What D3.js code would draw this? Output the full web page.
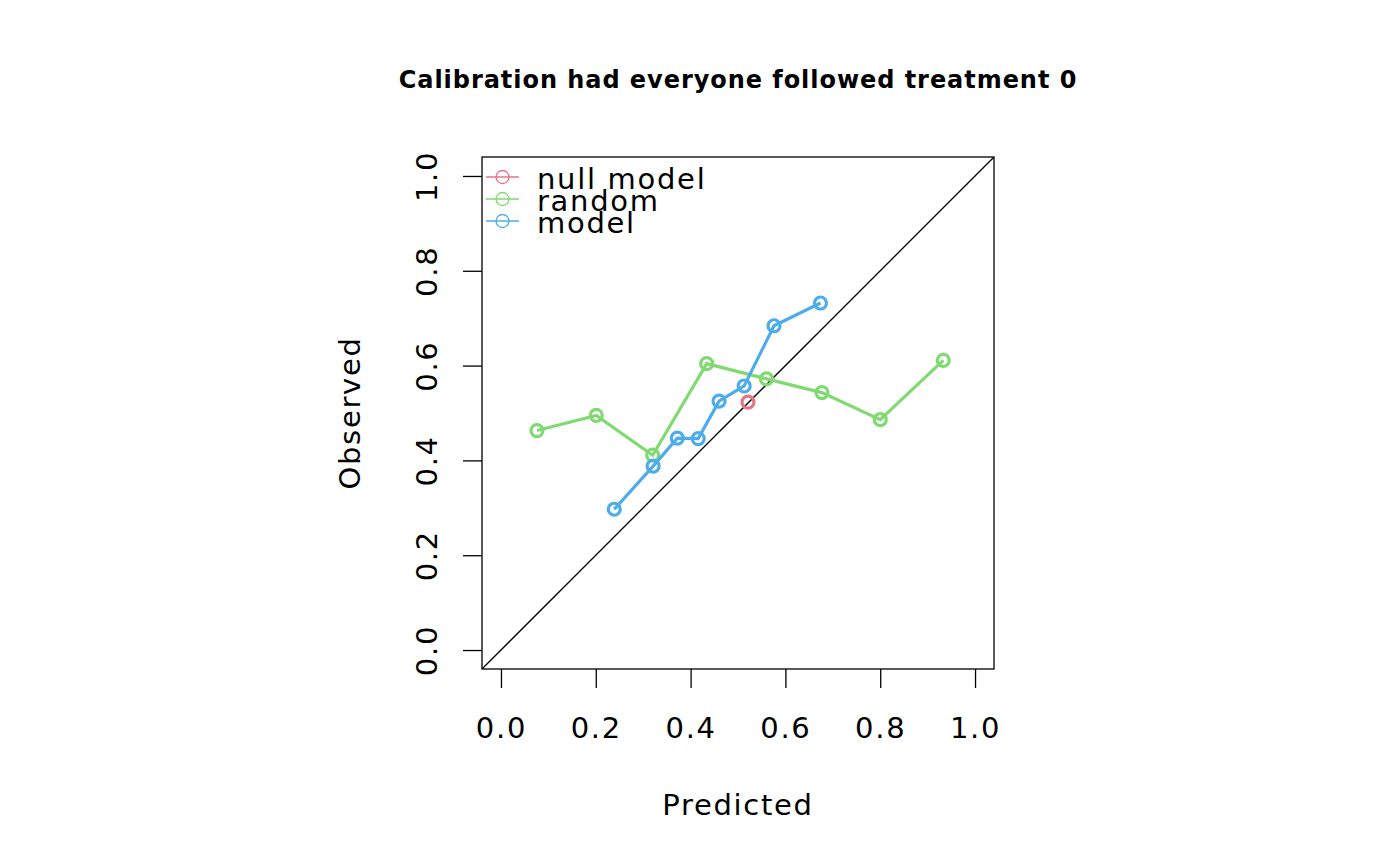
<!DOCTYPE html>
<html>
<head>
<meta charset="utf-8">
<script src="https://cdn.jsdelivr.net/npm/d3@7"></script>
<style>
    body { margin: 0; background: #fff; }
    text { font-family: "DejaVu Sans", sans-serif; }
</style>
</head>
<body>
<div id="chart"></div>
<script>
// Values
const seriesNames = ["null model", "random", "model"];
const seriesColors = ["#E57589", "#81D972", "#4EACEB"];

const nullPredicted = [0.521];
const nullObserved = [0.523];

const randomPredicted = [0.076, 0.201, 0.320, 0.434, 0.560, 0.677, 0.800, 0.933];
const randomObserved = [0.463, 0.495, 0.411, 0.604, 0.572, 0.543, 0.486, 0.611];

const modelPredicted = [0.239, 0.321, 0.372, 0.416, 0.460, 0.513, 0.576, 0.674];
const modelObserved = [0.297, 0.388, 0.447, 0.446, 0.525, 0.557, 0.684, 0.732];

const tickValues = [0, 0.2, 0.4, 0.6, 0.8, 1.0];

class CalibrationPlot {
    constructor(parentElement) {
        this.parentElement = parentElement;
        this.initVis();
    }

    initVis() {
        const vis = this;

        vis.width = 1400;
        vis.height = 866;
        vis.box = { left: 482, right: 994, top: 157, bottom: 669 };
        vis.fontSize = 29;
        vis.spacing = "1.7px";

        vis.svg = d3.select(`#${vis.parentElement}`)
            .append("svg")
            .attr("width", vis.width)
            .attr("height", vis.height);

        // R pads the range by 4% on each side
        vis.x = d3.scaleLinear()
            .domain([-0.04, 1.04])
            .range([vis.box.left, vis.box.right]);

        vis.y = d3.scaleLinear()
            .domain([-0.04, 1.04])
            .range([vis.box.bottom, vis.box.top]);

        // Title
        vis.svg.append("text")
            .attr("x", (vis.box.left + vis.box.right) / 2)
            .attr("y", 88)
            .attr("text-anchor", "middle")
            .attr("font-size", 24)
            .attr("font-weight", "bold")
            .attr("letter-spacing", "0.95px")
            .text("Calibration had everyone followed treatment 0");

        // Axes
        const xAxis = vis.svg.append("g")
            .attr("transform", `translate(0,${vis.box.bottom})`)
            .call(d3.axisBottom(vis.x).tickValues(tickValues).tickSize(19).tickFormat(d3.format(".1f")));
        xAxis.select(".domain").remove();
        xAxis.selectAll("line").attr("stroke", "#000").attr("stroke-width", 1.3);
        xAxis.selectAll("text")
            .attr("y", 69)
            .attr("dy", 0)
            .attr("fill", "#000")
            .attr("font-size", vis.fontSize)
            .attr("letter-spacing", vis.spacing)
            .attr("font-family", "DejaVu Sans");

        const yAxis = vis.svg.append("g")
            .attr("transform", `translate(${vis.box.left},0)`)
            .call(d3.axisLeft(vis.y).tickValues(tickValues).tickSize(19).tickFormat(d3.format(".1f")));
        yAxis.select(".domain").remove();
        yAxis.selectAll("line").attr("stroke", "#000").attr("stroke-width", 1.3);
        yAxis.selectAll("text")
            .attr("x", 0)
            .attr("y", -45)
            .attr("dy", 0)
            .attr("transform", "rotate(-90)")
            .attr("text-anchor", "middle")
            .attr("fill", "#000")
            .attr("font-size", vis.fontSize)
            .attr("letter-spacing", vis.spacing)
            .attr("font-family", "DejaVu Sans");

        // Axis titles
        vis.svg.append("text")
            .attr("x", (vis.box.left + vis.box.right) / 2)
            .attr("y", 815)
            .attr("text-anchor", "middle")
            .attr("font-size", vis.fontSize)
            .attr("letter-spacing", vis.spacing)
            .text("Predicted");

        vis.svg.append("text")
            .attr("transform", `translate(360,${(vis.box.top + vis.box.bottom) / 2}) rotate(-90)`)
            .attr("text-anchor", "middle")
            .attr("font-size", vis.fontSize)
            .attr("letter-spacing", vis.spacing)
            .text("Observed");

        // Plot region
        vis.svg.append("clipPath")
            .attr("id", "plot-clip")
            .append("rect")
            .attr("x", vis.box.left)
            .attr("y", vis.box.top)
            .attr("width", vis.box.right - vis.box.left)
            .attr("height", vis.box.bottom - vis.box.top);

        const plot = vis.svg.append("g").attr("clip-path", "url(#plot-clip)");

        // Perfect calibration line
        plot.append("line")
            .attr("x1", vis.x(-0.04)).attr("y1", vis.y(-0.04))
            .attr("x2", vis.x(1.04)).attr("y2", vis.y(1.04))
            .attr("stroke", "#000")
            .attr("stroke-width", 1.3);

        const series = [
            { x: nullPredicted, y: nullObserved },
            { x: randomPredicted, y: randomObserved },
            { x: modelPredicted, y: modelObserved }
        ];

        vis.line = d3.line()
            .x(d => vis.x(d[0]))
            .y(d => vis.y(d[1]));

        series.forEach((s, i) => {
            const pts = s.x.map((v, j) => [v, s.y[j]]);
            plot.append("path")
                .datum(pts)
                .attr("fill", "none")
                .attr("stroke", seriesColors[i])
                .attr("stroke-width", 3.2)
                .attr("d", vis.line);
            plot.selectAll(null)
                .data(pts)
                .enter()
                .append("circle")
                .attr("cx", d => vis.x(d[0]))
                .attr("cy", d => vis.y(d[1]))
                .attr("r", 6)
                .attr("fill", "none")
                .attr("stroke", seriesColors[i])
                .attr("stroke-width", 3.2);
        });

        // Frame
        vis.svg.append("rect")
            .attr("x", vis.box.left)
            .attr("y", vis.box.top)
            .attr("width", vis.box.right - vis.box.left)
            .attr("height", vis.box.bottom - vis.box.top)
            .attr("fill", "none")
            .attr("stroke", "#000")
            .attr("stroke-width", 1.3);

        // Legend
        const legend = vis.svg.append("g")
            .attr("transform", `translate(${vis.box.left},${vis.box.top})`);
        seriesNames.forEach((name, i) => {
            const row = legend.append("g").attr("transform", `translate(0,${20 + i * 22})`);
            row.append("line")
                .attr("x1", 4).attr("x2", 37)
                .attr("stroke", seriesColors[i])
                .attr("stroke-width", 1.3);
            row.append("circle")
                .attr("cx", 20.5)
                .attr("r", 6.5)
                .attr("fill", "none")
                .attr("stroke", seriesColors[i])
                .attr("stroke-width", 1.3);
            row.append("text")
                .attr("x", 55)
                .attr("y", 12)
                .attr("font-size", vis.fontSize)
                .attr("letter-spacing", vis.spacing)
                .text(name);
        });
    }
}

new CalibrationPlot("chart");
</script>
</body>
</html>
